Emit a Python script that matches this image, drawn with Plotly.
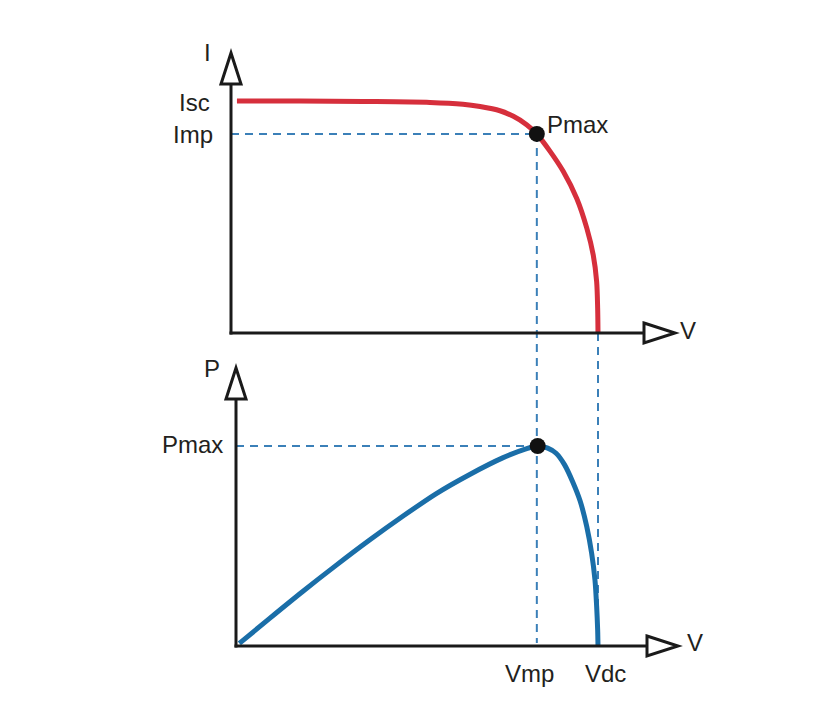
import plotly.graph_objects as go

# page body has an 8px margin, so the figure is sized to fit inside it
OFF = 8
W, H = 830 - 2 * OFF, 705 - 2 * OFF

# ---------------- data ----------------
# I-V curve
V_iv = [0.35, 4.06, 7.77, 11.71, 13.65, 14.66, 15.83, 16.62, 17.40, 18.0, 18.77, 19.56, 20.35, 20.94, 21.32,
        21.52, 21.58, 21.6]
I_iv = [5.0, 5.0, 4.99, 4.97, 4.93, 4.88, 4.79, 4.67, 4.49, 4.29, 3.92, 3.48, 2.90, 2.26, 1.68,
        1.11, 0.53, 0.0]
# P-V curve
V_pv = [0.20, 1.99, 3.98, 5.97, 7.95, 9.95, 11.93, 13.92, 15.91, 17.30, 18.0, 18.6, 19.1, 19.6, 20.1, 20.53,
        20.93, 21.22, 21.42, 21.52, 21.58, 21.6]
P_pv = [1.0, 10.6, 21.1, 31.2, 40.9, 50.2, 58.9, 66.3, 72.8, 76.3, 77.4, 76.6, 74.6, 70.2, 63.4, 56.2,
        46.2, 35.9, 25.5, 15.2, 6.2, 0.0]
# characteristic points
VMP, VDC = 18.0, 21.6
IMP, ISC = 4.29, 5.0
PMAX = 77.4
# labels
top_y_labels = ["Isc", "Imp"]
bottom_x_labels = ["Vmp", "Vdc"]

# ---------------- layout geometry (window pixels) ----------------
T_X0, T_Y0 = 231, 333
T_SX = (598 - 231) / VDC
T_SY = (333 - 101) / ISC
B_X0, B_Y0 = 236, 646
B_SX = (598 - 236) / VDC
B_SY = (646 - 446) / PMAX

RED = "#d62f3c"
BLUE = "#1a6ea8"
DASH = "#3b80b8"
AX = "#1a1a1a"
TXT = "#231f20"
FONT = "Liberation Sans, Arial, sans-serif"


def px(x):
    return (x - OFF) / W


def py(y):
    return 1 - (y - OFF) / H


def top_y_paper(i):
    return py(T_Y0 - i * T_SY)


def bot_y_paper(p):
    return py(B_Y0 - p * B_SY)


fig = go.Figure()

fig.add_trace(go.Scatter(x=V_iv, y=I_iv, mode="lines", line=dict(color=RED, width=5, shape="spline", smoothing=0.8),
                         xaxis="x", yaxis="y", hoverinfo="skip", showlegend=False))
fig.add_trace(go.Scatter(x=[VMP], y=[IMP], mode="markers", marker=dict(color="#111111", size=16),
                         xaxis="x", yaxis="y", hoverinfo="skip", showlegend=False))
fig.add_trace(go.Scatter(x=V_pv, y=P_pv, mode="lines", line=dict(color=BLUE, width=5, shape="spline", smoothing=0.8),
                         xaxis="x2", yaxis="y2", hoverinfo="skip", showlegend=False))
fig.add_trace(go.Scatter(x=[VMP], y=[PMAX], mode="markers", marker=dict(color="#111111", size=16),
                         xaxis="x2", yaxis="y2", hoverinfo="skip", showlegend=False))

shapes = []
dash_line = dict(color=DASH, width=2, dash="8px,6px")
shapes.append(dict(type="line", xref="x", yref="y", x0=0, x1=VMP, y0=IMP, y1=IMP, line=dash_line, layer="below"))
shapes.append(dict(type="line", xref="x2", yref="y2", x0=0, x1=VMP, y0=PMAX, y1=PMAX, line=dash_line, layer="below"))
shapes.append(dict(type="line", xref="x", yref="paper", x0=VMP, x1=VMP, y0=top_y_paper(IMP), y1=bot_y_paper(0) + 3 / H,
                   line=dash_line, layer="below"))
shapes.append(dict(type="line", xref="x", yref="paper", x0=VDC, x1=VDC, y0=top_y_paper(0), y1=bot_y_paper(0) + 3 / H,
                   line=dash_line, layer="below"))


def axis_arrows(x0, y0, xtip, ytip):
    L, HW = 31, 10
    out = []
    out.append(dict(type="line", xref="paper", yref="paper", x0=px(x0 - 1.5), x1=px(xtip - L), y0=py(y0), y1=py(y0),
                    line=dict(color=AX, width=3)))
    out.append(dict(type="path", xref="paper", yref="paper",
                    path=f"M {px(xtip - L)} {py(y0 - HW)} L {px(xtip)} {py(y0)} L {px(xtip - L)} {py(y0 + HW)} Z",
                    fillcolor="white", line=dict(color=AX, width=3)))
    out.append(dict(type="line", xref="paper", yref="paper", x0=px(x0), x1=px(x0), y0=py(y0 + 1.5), y1=py(ytip + L),
                    line=dict(color=AX, width=3)))
    out.append(dict(type="path", xref="paper", yref="paper",
                    path=f"M {px(x0 - HW)} {py(ytip + L)} L {px(x0)} {py(ytip)} L {px(x0 + HW)} {py(ytip + L)} Z",
                    fillcolor="white", line=dict(color=AX, width=3)))
    return out


shapes += axis_arrows(T_X0, T_Y0, 675, 53)
shapes += axis_arrows(B_X0, B_Y0, 678, 368)

fnt = dict(family=FONT, size=24, color=TXT)
ann = []


def A(text, x, y, xref="paper", yref="paper", xanchor="center", yanchor="middle", xshift=0, yshift=0):
    ann.append(dict(text=text, x=x, y=y, xref=xref, yref=yref, xanchor=xanchor, yanchor=yanchor,
                    xshift=xshift, yshift=yshift, showarrow=False, font=fnt))


A("I", px(207), py(52))
A(top_y_labels[0], px(212), ISC, yref="y", xanchor="right", yshift=-1)
A(top_y_labels[1], px(215), IMP, yref="y", xanchor="right", yshift=-1)
A("Pmax", VMP, IMP, xref="x", yref="y", xanchor="left", xshift=8, yshift=9)
A("V", px(688), py(330))
A("P", px(212), py(368))
A("Pmax", px(225), PMAX, yref="y2", xanchor="right", yshift=1)
A(bottom_x_labels[0], VMP, py(673), xref="x2", xshift=-8)
A(bottom_x_labels[1], VDC, py(673), xref="x2", xshift=7)
A("V", px(695), py(642))

fig.update_layout(
    width=W, height=H, autosize=False,
    margin=dict(l=0, r=0, t=0, b=0),
    paper_bgcolor="white", plot_bgcolor="rgba(0,0,0,0)",
    xaxis=dict(domain=[px(T_X0), 1], range=[0, (W + OFF - T_X0) / T_SX], visible=False, fixedrange=True),
    yaxis=dict(domain=[py(T_Y0), py(20)], range=[0, (T_Y0 - 20) / T_SY], visible=False, fixedrange=True),
    xaxis2=dict(domain=[px(B_X0), 1], range=[0, (W + OFF - B_X0) / B_SX], visible=False, fixedrange=True),
    yaxis2=dict(domain=[py(B_Y0), py(345)], range=[0, (B_Y0 - 345) / B_SY], visible=False, fixedrange=True),
    shapes=shapes, annotations=ann, showlegend=False,
)

fig.write_html("out.html")
